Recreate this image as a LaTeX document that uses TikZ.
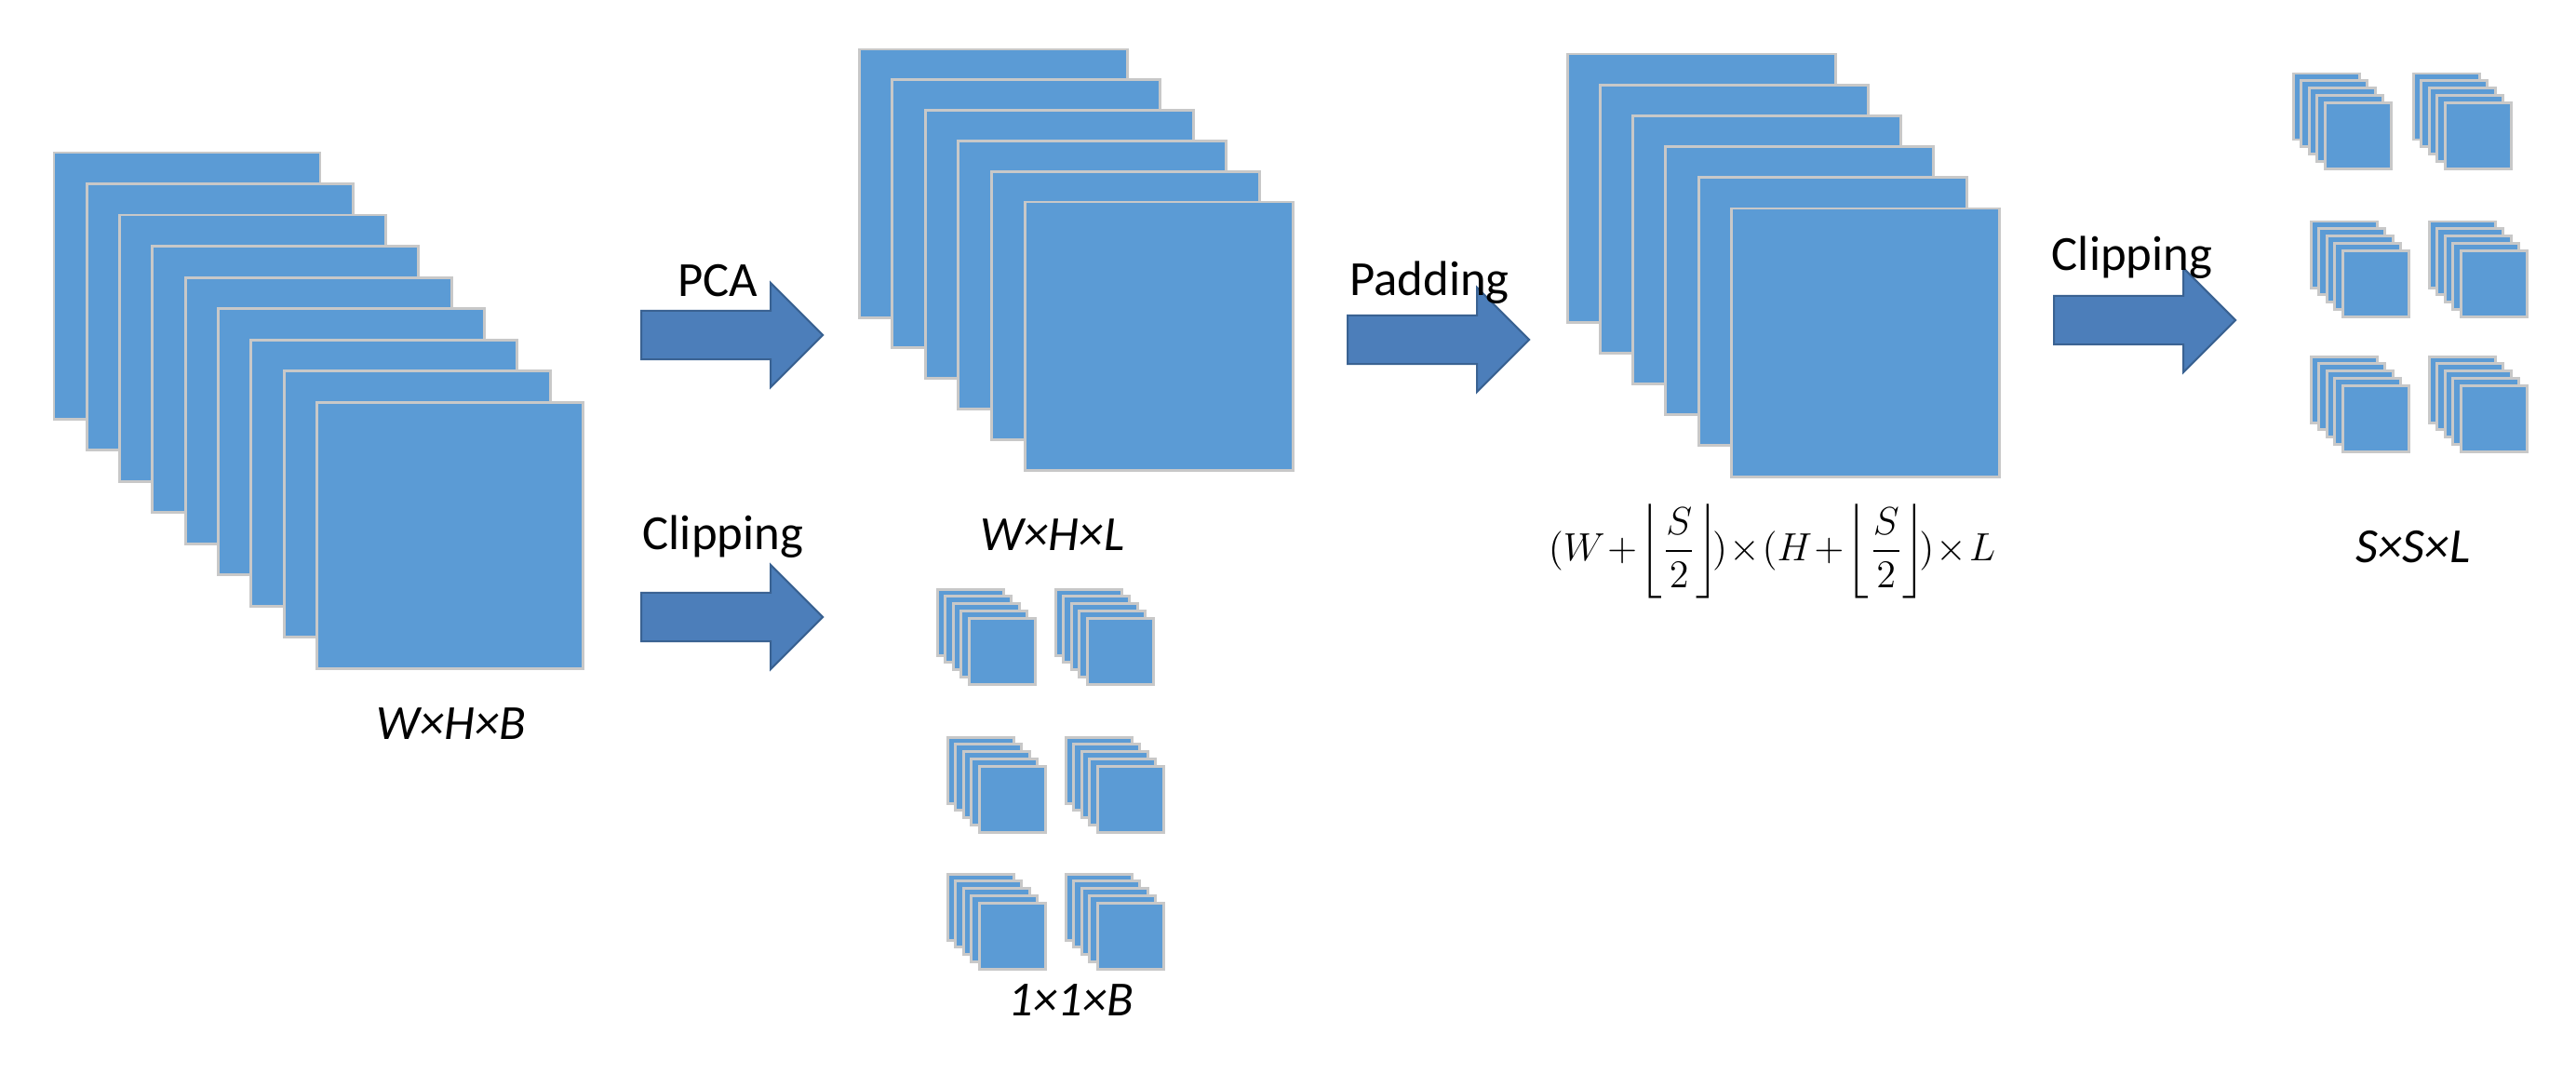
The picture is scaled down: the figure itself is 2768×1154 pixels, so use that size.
\documentclass[tikz,border=0pt]{standalone}
\usepackage{amsmath}
\usepackage{fontspec}
\setmainfont{Carlito}
\usetikzlibrary{shapes.arrows}
\definecolor{layerblue}{RGB}{91,155,213}
\definecolor{layeredge}{RGB}{200,200,200}
\definecolor{arrowblue}{RGB}{76,126,186}
\definecolor{arrowedge}{RGB}{58,98,146}
\newcommand{\layerstack}[6]{% x, y, count, size, dx, dy
  \foreach \i in {1,...,#3}
    \draw [layer] ({#1+(\i-1)*#5},{#2+(\i-1)*#6}) rectangle ++(#4,#4);}

\begin{document}
\begin{tikzpicture}[x=0.01cm, y=-0.01cm,
    layer/.style={fill=layerblue, draw=layeredge, line width=0.85pt},
    stage arrow/.style={single arrow, fill=arrowblue, draw=arrowedge, line width=0.6pt,
      inner sep=0.25cm, minimum height=1.95cm, minimum width=1.1cm,
      single arrow head extend=0.3cm, anchor=west},
    txt/.style={font=\fontsize{15}{18}\selectfont},
    dim/.style={font=\fontsize{15}{18}\selectfont\itshape}]
    \useasboundingbox (0,0) rectangle (2768,1154);
    % input cube and reduced cube
    \layerstack{58}{164}{9}{286}{35.3}{33.5}
    \layerstack{923}{53}{6}{288}{35.6}{32.8}
    \layerstack{1684}{58}{6}{288}{35.3}{33.2}
    % clipped patches
    \foreach \px/\py in {1007/633, 1134/633, 1018/792, 1145/792, 1018/939, 1145/939,
        2464/79, 2593/79, 2483/238, 2610/238, 2483/383, 2610/383}
      {\layerstack{\px}{\py}{5}{71}{8.6}{7.8}}

    \node (pca) [stage arrow] at (688,360) {};
    \node (clip1) [stage arrow] at (688,663) {};
    \node (pad) [stage arrow] at (1447,365) {};
    \node (clip2) [stage arrow] at (2206,344) {};

    \node (pcalbl) [txt] at (771,302) {PCA};
    \node (clip1lbl) [txt] at (777,577) {Clipping};
    \node (padlbl) [txt] at (1536,304) {Padding};
    \node (clip2lbl) [txt] at (2291,277) {Clipping};

    \node (whb) [dim] at (485,778) {W×H×B};
    \node (whl) [dim] at (1131,575) {W×H×L};
    \node (oob) [dim] at (1151,1075) {1×1×B};
    \node (ssl) [dim] at (2593,588) {S×S×L};
    \node (padsize) at (1904,592) {\fontsize{11.5}{13}\selectfont
      $(W\!+\!\left\lfloor\dfrac{S}{2}\right\rfloor\!)\!\times\!(H\!+\!\left\lfloor\dfrac{S}{2}\right\rfloor\!)\!\times\! L$};
\end{tikzpicture}
\end{document}
